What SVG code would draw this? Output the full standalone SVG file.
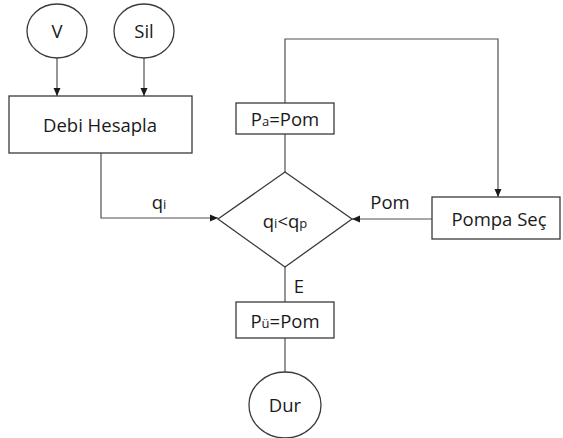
<svg xmlns="http://www.w3.org/2000/svg" width="563" height="438" viewBox="0 0 563 438">
<style>
.n{fill:#fff;stroke:#3a3a3a;stroke-width:1.3}
.c{fill:none;stroke:#505050;stroke-width:1.2}
text{font-family:"Open Sans","Liberation Sans",sans-serif;font-size:18.5px;fill:#1a1a1a;text-anchor:middle}
.s{font-size:13px}
</style>
<defs>
<marker id="a" viewBox="0 0 8 8" refX="8" refY="4" markerWidth="8" markerHeight="8" markerUnits="userSpaceOnUse" orient="auto">
<path d="M0,0.5 L8,4 L0,7.5 Z" fill="#1a1a1a"/>
</marker>
</defs>
<rect width="563" height="438" fill="#fff"/>
<g id="connectors">
<line class="c" x1="57" y1="58" x2="57" y2="96" marker-end="url(#a)"/>
<line class="c" x1="144" y1="58" x2="144" y2="96" marker-end="url(#a)"/>
<polyline class="c" points="101,153 101,218 218,218" marker-end="url(#a)"/>
<polyline class="c" points="432,219 352,219" marker-end="url(#a)"/>
<line class="c" x1="285" y1="172" x2="285" y2="134"/>
<polyline class="c" points="285,103 285,39 498,39 498,197" marker-end="url(#a)"/>
<line class="c" x1="285" y1="267" x2="285" y2="302"/>
<line class="c" x1="285" y1="338" x2="285" y2="372"/>
<text x="159" y="209">q<tspan class="s">i</tspan></text>
<text x="390" y="209">Pom</text>
<text x="299" y="293">E</text>
</g>
<g id="V">
<ellipse class="n" cx="57" cy="31" rx="30" ry="27"/>
<text x="57" y="38">V</text>
</g>
<g id="Sil">
<ellipse class="n" cx="144" cy="31" rx="30" ry="27"/>
<text x="144" y="38">Sil</text>
</g>
<g id="debi">
<rect class="n" x="9" y="96" width="183" height="57"/>
<text x="100" y="132">Debi Hesapla</text>
</g>
<g id="pa">
<rect class="n" x="236" y="103" width="98" height="31"/>
<text x="285" y="126">P<tspan class="s">a</tspan>=Pom</text>
</g>
<g id="karar">
<polygon class="n" points="285,172 352,219 285,267 218,219"/>
<text x="285" y="228">q<tspan class="s">i</tspan>&lt;q<tspan class="s">p</tspan></text>
</g>
<g id="pompa">
<rect class="n" x="432" y="197" width="128" height="42"/>
<text x="499" y="226">Pompa Seç</text>
</g>
<g id="pu">
<rect class="n" x="236" y="302" width="98" height="36"/>
<text x="285" y="328">P<tspan class="s">ü</tspan>=Pom</text>
</g>
<g id="dur">
<ellipse class="n" cx="285" cy="405" rx="36" ry="33"/>
<text x="285" y="412">Dur</text>
</g>
</svg>
